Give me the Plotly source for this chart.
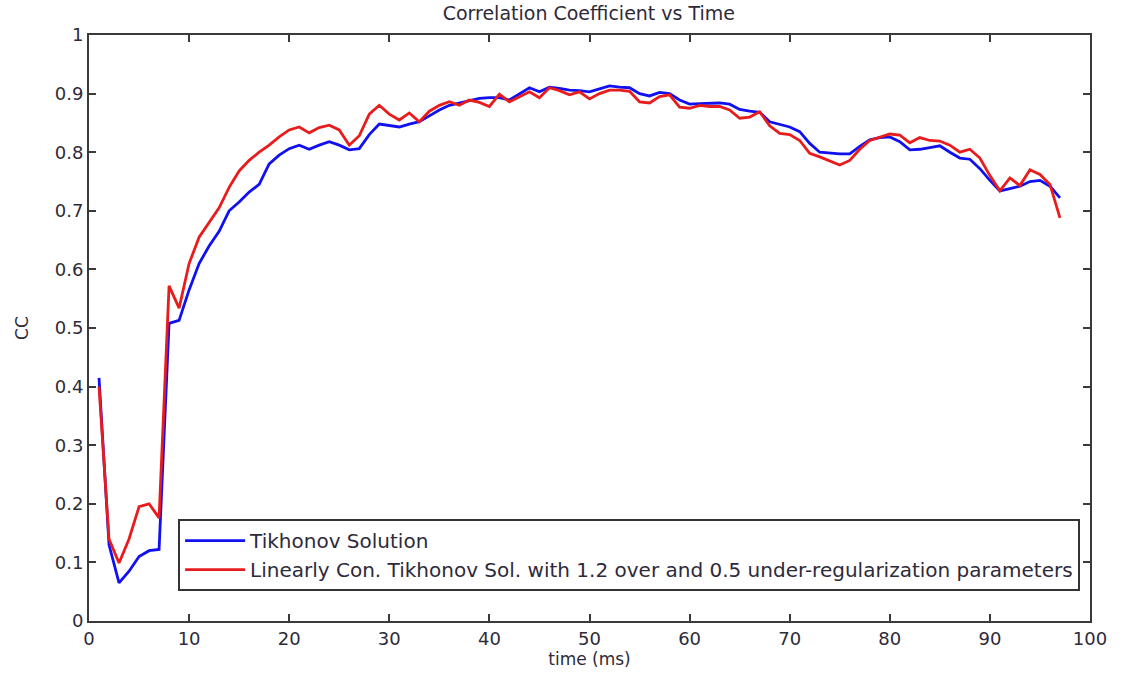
import plotly.graph_objects as go

# time axis (ms)
time_ms = list(range(1, 98))

# correlation coefficient, Tikhonov solution
cc_tikhonov = [
    0.415, 0.13, 0.065, 0.085, 0.11, 0.12, 0.122, 0.508, 0.513, 0.565,
    0.61, 0.64, 0.665, 0.70, 0.715, 0.732, 0.745, 0.78, 0.795, 0.806,
    0.812, 0.805, 0.812, 0.818, 0.812, 0.804, 0.806, 0.83, 0.848, 0.845,
    0.843, 0.848, 0.852, 0.862, 0.872, 0.88, 0.884, 0.888, 0.892, 0.893,
    0.893, 0.889, 0.90, 0.91, 0.903, 0.911, 0.909, 0.906, 0.905, 0.903,
    0.908, 0.913, 0.911, 0.91, 0.90, 0.896, 0.902, 0.90, 0.889, 0.882,
    0.883, 0.884, 0.884, 0.882, 0.873, 0.87, 0.868, 0.852, 0.847, 0.843,
    0.835, 0.815, 0.80, 0.798, 0.797, 0.797, 0.81, 0.821, 0.825, 0.826,
    0.818, 0.804, 0.805, 0.808, 0.811, 0.80, 0.79, 0.788, 0.772, 0.752,
    0.734, 0.738, 0.742, 0.75, 0.752, 0.742, 0.722,
]

# correlation coefficient, linearly constrained Tikhonov solution
cc_lin_con = [
    0.40, 0.14, 0.099, 0.14, 0.195, 0.20, 0.176, 0.572, 0.534, 0.61,
    0.655, 0.68, 0.705, 0.74, 0.768, 0.786, 0.80, 0.812, 0.826, 0.838,
    0.843, 0.833, 0.842, 0.846, 0.838, 0.812, 0.828, 0.865, 0.88, 0.865,
    0.855, 0.867, 0.852, 0.87, 0.88, 0.886, 0.88, 0.889, 0.885, 0.878,
    0.899, 0.886, 0.895, 0.903, 0.893, 0.91, 0.905, 0.898, 0.903, 0.891,
    0.90, 0.906, 0.906, 0.904, 0.886, 0.884, 0.895, 0.898, 0.877, 0.875,
    0.88, 0.878, 0.878, 0.872, 0.858, 0.86, 0.869, 0.845, 0.832, 0.83,
    0.82, 0.798, 0.792, 0.785, 0.778, 0.786, 0.805, 0.82, 0.825, 0.831,
    0.829, 0.816, 0.825, 0.82, 0.819, 0.812, 0.80, 0.805, 0.79, 0.76,
    0.734, 0.756, 0.743, 0.77, 0.762, 0.745, 0.688,
]

x_ticks = list(range(0, 101, 10))
y_ticks = [round(0.1 * i, 1) for i in range(11)]
y_tick_text = ["0", "0.1", "0.2", "0.3", "0.4", "0.5", "0.6", "0.7", "0.8", "0.9", "1"]

font_family = "DejaVu Sans, Arial, sans-serif"
text_color = "#2e2a3a"

fig = go.Figure()
fig.add_trace(go.Scatter(
    x=time_ms, y=cc_tikhonov, mode="lines", name="Tikhonov Solution",
    line=dict(color="#1010f0", width=2.8),
))
fig.add_trace(go.Scatter(
    x=time_ms, y=cc_lin_con, mode="lines",
    name="Linearly Con. Tikhonov Sol. with 1.2 over and 0.5 under-regularization parameters",
    line=dict(color="#e81c1c", width=2.8),
))

axis_common = dict(
    showgrid=False, zeroline=False, showline=True, mirror="ticks",
    linecolor="#3a3a3a", linewidth=2, ticks="inside", ticklen=7,
    tickcolor="#3a3a3a", tickwidth=1.8,
    tickfont=dict(family=font_family, size=18, color=text_color),
)

fig.update_layout(
    width=1127, height=680,
    margin=dict(l=89, r=37, t=35, b=59),
    paper_bgcolor="white", plot_bgcolor="white",
    title=dict(
        text="Correlation Coefficient vs Time",
        x=0.5225, xanchor="center", y=0.981, yanchor="middle",
        font=dict(family=font_family, size=19, color=text_color),
    ),
    xaxis=dict(
        range=[0, 100], tickvals=x_ticks,
        title=dict(text="time (ms)", standoff=0,
                   font=dict(family=font_family, size=17, color=text_color)),
        **axis_common,
    ),
    yaxis=dict(
        range=[0, 1], tickvals=y_ticks, ticktext=y_tick_text,
        title=dict(text="CC", standoff=22,
                   font=dict(family=font_family, size=17, color=text_color)),
        **axis_common,
    ),
    legend=dict(
        x=0.089, y=0.051, xanchor="left", yanchor="bottom",
        bgcolor="white", bordercolor="#333333", borderwidth=2,
        font=dict(family=font_family, size=20, color=text_color),
        itemwidth=60, tracegroupgap=0,
    ),
    showlegend=True,
)

fig.write_html("out.html")
